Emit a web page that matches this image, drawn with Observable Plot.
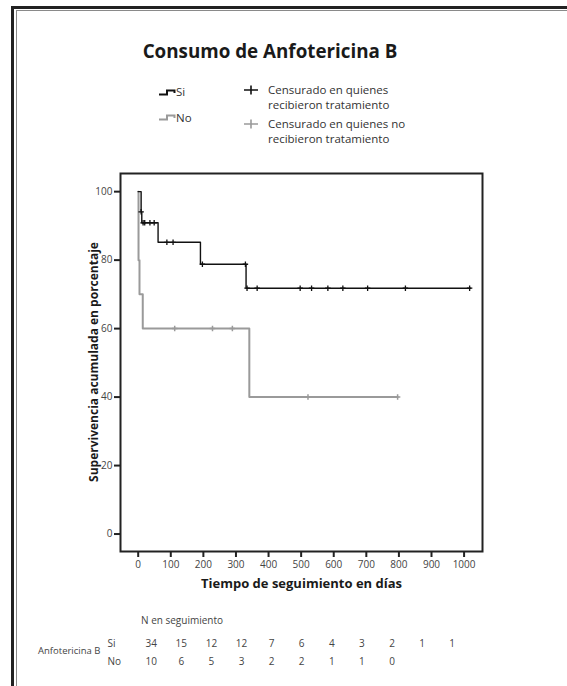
<!DOCTYPE html>
<html>
<head>
<meta charset="utf-8">
<script src="https://cdn.jsdelivr.net/npm/d3@7"></script>
<script src="https://cdn.jsdelivr.net/npm/@observablehq/plot@0.6"></script>
<style>
  html, body { margin: 0; padding: 0; background: #fff; }
  #wrap { position: relative; width: 567px; height: 686px; overflow: hidden; font-family: "Open Sans", sans-serif; color: #222; }
  .abs { position: absolute; white-space: nowrap; }
  #frame1 { left: 11px; top: 6px; width: 600px; height: 720px; border-left: 3px solid #222; border-top: 3px solid #222; }
  #frame2 { left: 16px; top: 10px; width: 600px; height: 720px; border-left: 1.5px solid #8a8a8a; border-top: 1.5px solid #8a8a8a; }
  #title { left: 0; width: 540px; top: 36px; text-align: center; font-weight: bold; font-size: 18.8px; line-height: 30px; color: #1a1a1a; }
  .leg { font-size: 11.5px; color: #333; line-height: 15px; }
  svg.ov { position: absolute; left: 0; top: 0; }
  #ylab { left: 94px; top: 362px; transform: translate(-50%, -50%) rotate(-90deg); font-weight: bold; font-size: 12px; color: #1a1a1a; line-height: 14px; }
</style>
</head>
<body>
<div id="wrap">
  <div class="abs" id="frame1"></div>
  <div class="abs" id="frame2"></div>
  <div class="abs" id="title">Consumo de Anfotericina B</div>

  <svg class="abs" style="left:0;top:0" width="567" height="160">
    <path d="M159,94.5 H167 V90.5 H174.5 V93" fill="none" stroke="#111" stroke-width="2"/>
    <path d="M159,119.5 H167 V115.5 H174.5 V118" fill="none" stroke="#9a9a9a" stroke-width="2"/>
    <path d="M244,90 H258 M251,85.5 V94.5" fill="none" stroke="#111" stroke-width="1.6"/>
    <path d="M244,124 H258 M251,119.5 V128.5" fill="none" stroke="#9a9a9a" stroke-width="1.6"/>
  </svg>
  <div class="abs leg" style="left:176px;top:84px">Si</div>
  <div class="abs leg" style="left:176px;top:110px">No</div>
  <div class="abs leg" style="left:268px;top:82px">Censurado en quienes<br>recibieron tratamiento</div>
  <div class="abs leg" style="left:268px;top:116px">Censurado en quienes no<br>recibieron tratamiento</div>

  <div class="abs" id="ylab">Supervivencia acumulada en porcentaje</div>

  <div class="abs" style="left:141px;top:613px;font-size:10px;color:#444">N en seguimiento</div>
  <div class="abs" style="left:38px;top:644px;font-size:9.5px;color:#444">Anfotericina B</div>

  <div id="main"></div>
  <div id="table"></div>
</div>
<script>
// Kaplan-Meier steps (days, % survival)
const siTimes  = [0, 9, 11, 61, 191, 331, 1020];
const siSurv   = [100, 94.1, 90.9, 85.2, 78.8, 71.8, 71.8];
const noTimes  = [0, 1, 4, 14, 341, 796];
const noSurv   = [100, 80, 70, 60, 40, 40];

// Censored observations
const siCensTimes = [9, 15, 20, 36, 49, 88, 107, 197, 329, 334, 365, 497, 532, 582, 628, 704, 820, 1017];
const siCensSurv  = [94.1, 90.9, 90.9, 90.9, 90.9, 85.2, 85.2, 78.8, 78.8, 71.8, 71.8, 71.8, 71.8, 71.8, 71.8, 71.8, 71.8, 71.8];
const noCensTimes = [112, 228, 289, 521, 796];
const noCensSurv  = [60, 60, 60, 40, 40];

// Ticks
const xTicks = [0, 100, 200, 300, 400, 500, 600, 700, 800, 900, 1000];
const yTicks = [0, 20, 40, 60, 80, 100];

// Number at risk table
const riskTimes = [0, 100, 200, 300, 400, 500, 600, 700, 800, 900, 1000];
const riskSi = [34, 15, 12, 12, 7, 6, 4, 3, 2, 1, 1];
const riskNo = [10, 6, 5, 3, 2, 2, 1, 1, 0];
const groups = ["Si", "No"];

const BLACK = "#111", GRAY = "#9a9a9a";

const siLine = siTimes.map((t, i) => ({t, s: siSurv[i]}));
const noLine = noTimes.map((t, i) => ({t, s: noSurv[i]}));
const siCens = siCensTimes.map((t, i) => ({t, s: siCensSurv[i]}));
const noCens = noCensTimes.map((t, i) => ({t, s: noCensSurv[i]}));

const main = Plot.plot({
  width: 567,
  height: 686,
  marginLeft: 120,
  marginRight: 85,
  marginTop: 173,
  marginBottom: 135,
  style: {fontFamily: "Open Sans, sans-serif", fontSize: "10px", color: "#333", background: "transparent"},
  x: {domain: [-54.3, 1056.5]},
  y: {domain: [-5.1, 105.3]},
  marks: [
    Plot.line(noLine, {x: "t", y: "s", curve: "step-after", stroke: GRAY, strokeWidth: 2}),
    Plot.dot(noCens, {x: "t", y: "s", symbol: "plus", r: 1.9, stroke: GRAY, strokeWidth: 1.5}),
    Plot.line(siLine, {x: "t", y: "s", curve: "step-after", stroke: BLACK, strokeWidth: 1.4}),
    Plot.dot(siCens, {x: "t", y: "s", symbol: "plus", r: 1.9, stroke: BLACK, strokeWidth: 1.3}),
    Plot.frame({stroke: "#222", strokeWidth: 2}),
    Plot.axisX({ticks: xTicks, tickSize: 6, tickPadding: 3, tickFormat: d => String(d), label: null, stroke: "#222", strokeWidth: 2, fill: "#444"}),
    Plot.axisY({ticks: yTicks, tickSize: 6, tickPadding: 2, tickFormat: d => String(d), label: null, stroke: "#222", strokeWidth: 2, fill: "#444"}),
    Plot.text(["Tiempo de seguimiento en días"], {frameAnchor: "bottom", dy: 36, fontWeight: "bold", fontSize: 13, fill: "#1a1a1a"})
  ]
});
main.classList.add("ov");
document.getElementById("main").appendChild(main);

const tableData = [
  ...riskSi.map((n, i) => ({t: riskTimes[i], g: "Si", n})),
  ...riskNo.map((n, i) => ({t: riskTimes[i], g: "No", n}))
];

const table = Plot.plot({
  width: 567,
  height: 686,
  margin: 0,
  style: {fontFamily: "Open Sans, sans-serif", background: "transparent"},
  x: {domain: [0, 1000], range: [150.7, 451.7], axis: null},
  y: {type: "point", domain: groups, range: [642.5, 660.5], padding: 0, axis: null},
  marks: [
    Plot.text(tableData, {x: "t", y: "g", text: d => String(d.n), fontSize: 10, fill: "#444"}),
    Plot.text(groups, {y: d => d, frameAnchor: "left", dx: 107, text: d => d, textAnchor: "start", fontSize: 10, fill: "#444"})
  ]
});
table.classList.add("ov");
table.style.pointerEvents = "none";
document.getElementById("table").appendChild(table);
</script>
</body>
</html>
